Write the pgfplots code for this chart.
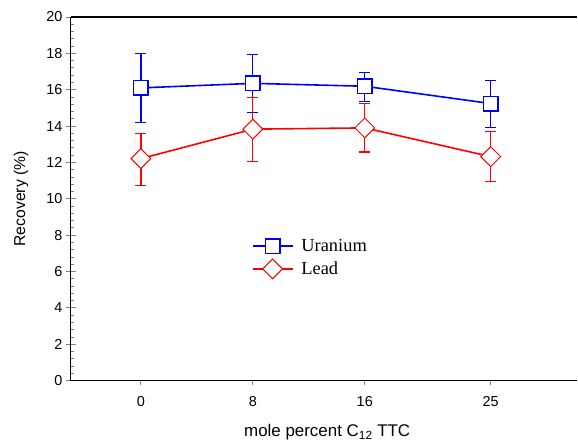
\documentclass[border=0pt]{standalone}
\usepackage{pgfplots}
\pgfplotsset{compat=1.18}
\usepackage{fontspec}
\setmainfont{Liberation Sans}
\newfontfamily\legfont{Liberation Serif}
\begin{document}
\begin{tikzpicture}
\begin{axis}[
  scale only axis,
  width=507bp, height=364bp,
  xmin=-5, xmax=31.2, ymin=0, ymax=20,
  axis lines=left,
  axis line style={-, line width=1.1bp, black},
  xtick={0,8,16,25},
  ytick={0,2,...,20},
  minor y tick num=4,
  xtick align=outside,
  ytick align=center,
  major tick length=10bp,
  minor tick length=3bp,
  xtick style={/pgfplots/major tick length=4.5bp, line width=0.9bp},
  every minor y tick/.style={xshift=1.5bp, line width=0.8bp},
  every major y tick/.style={line width=0.9bp},
  /pgf/number format/assume math mode=true,
  tick label style={font=\fontsize{14.5}{16}\selectfont},
  xticklabel style={yshift=-2bp},
  xlabel={mole percent C\textsubscript{12} TTC},
  ylabel={Recovery (\%)},
  label style={font=\fontsize{15.8}{18}\selectfont},
  xlabel style={at={(axis description cs:0.5,0)}, anchor=center, yshift=-52bp, xshift=3bp,
    font=\fontsize{17}{19}\selectfont},
  ylabel style={at={(axis description cs:0,0.5)}, anchor=center, yshift=50bp},
  legend style={draw=none, fill=none, at={(axis cs:7.7,8.0)}, anchor=north west,
    font=\legfont\fontsize{18.5}{21}\selectfont, row sep=4bp,
    /tikz/every odd column/.append style={column sep=6bp}},
  legend cell align=left,
  legend image code/.code={\draw[mark repeat=2,mark phase=2,#1] plot coordinates {(0bp,0bp)(20bp,0bp)(40bp,0bp)};},
  clip=false,
]
% error bars (drawn first, under the markers)
\addplot[draw=none, mark=none, forget plot,
  error bars/.cd, y dir=both, y explicit,
  error bar style={line width=1.3bp, color=blue},
  error mark options={rotate=90, mark size=5.5bp, line width=1.3bp, color=blue}]
  coordinates {
  (0,16.10) += (0,1.90) -= (0,1.90)
  (8,16.35) += (0,1.60) -= (0,1.59)
  (16,16.19) += (0,0.77) -= (0,0.84)
  (25,15.24) += (0,1.28) -= (0,1.32)
  };
\addplot[draw=none, mark=none, forget plot,
  error bars/.cd, y dir=both, y explicit,
  error bar style={line width=1.3bp, color=red},
  error mark options={rotate=90, mark size=5.5bp, line width=1.3bp, color=red}]
  coordinates {
  (0,12.21) += (0,1.39) -= (0,1.46)
  (8,13.83) += (0,1.75) -= (0,1.76)
  (16,13.90) += (0,1.36) -= (0,1.33)
  (25,12.32) += (0,1.38) -= (0,1.35)
  };
% lines and markers
\addplot[color=blue, line width=1.6bp, mark=square*, mark size=7.3bp,
  mark options={fill=white, draw=blue, line width=1.4bp, solid}]
  coordinates {(0,16.10) (8,16.35) (16,16.19) (25,15.24)};
\addlegendentry{Uranium}
\addplot[color=red, line width=1.6bp, mark=square*, mark size=7.0bp,
  mark options={fill=white, draw=red, line width=1.0bp, rotate=45, solid}]
  coordinates {(0,12.21) (8,13.83) (16,13.90) (25,12.32)};
\addlegendentry{Lead}
\draw[line width=1.1bp, black] (rel axis cs:0,1) -- (rel axis cs:1,1);
\end{axis}
\path (current axis.south west) ++(-71bp,-62bp) rectangle ++(578bp,443bp);
\end{tikzpicture}
\end{document}
